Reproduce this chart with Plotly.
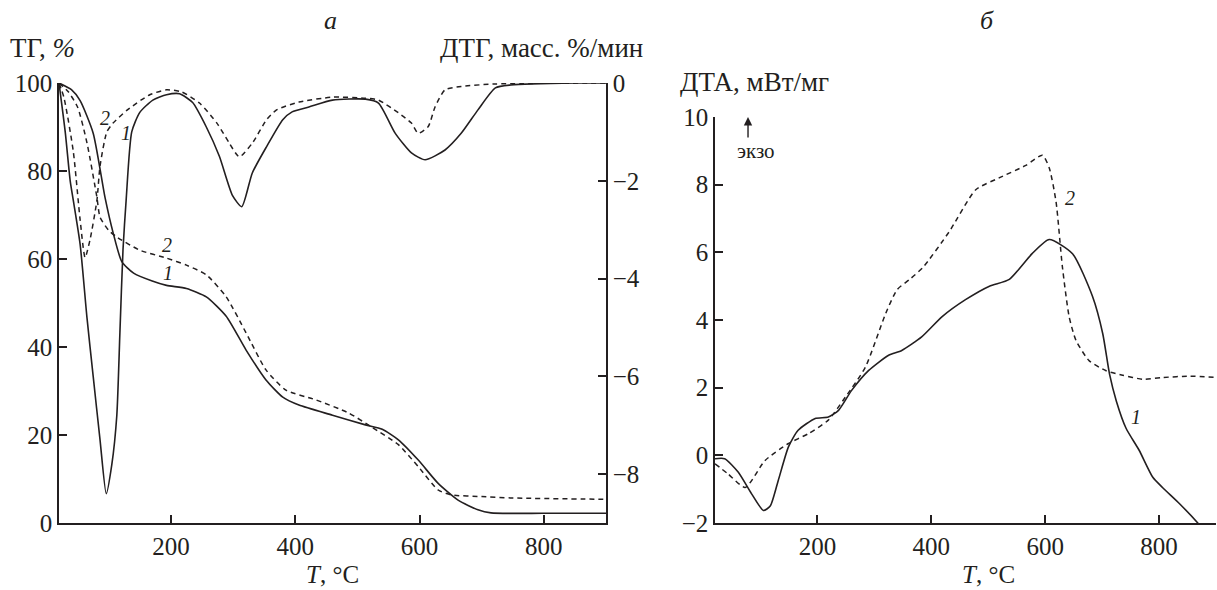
import plotly.graph_objects as go

# ---------------- data ----------------
# Panel a: TG (%), curve 1 (solid) and 2 (dashed)
T_tg1 = [20, 40, 54, 75, 94, 107, 121, 140, 170, 193, 225, 257, 289, 321, 353, 380, 406, 460, 513, 540, 566, 598, 630, 662, 694, 715, 800, 900]
tg1 = [100, 98.5, 96, 88.6, 74, 66, 59.4, 56.8, 55, 54, 53.3, 51.4, 47, 39.3, 32.5, 28.6, 26.8, 24.5, 22.3, 21.3, 18.9, 14.3, 9, 5.2, 3, 2.3, 2.2, 2.2]

T_tg2 = [20, 35, 50, 65, 81, 86, 100, 113, 150, 193, 225, 257, 289, 321, 353, 385, 433, 486, 523, 566, 598, 630, 651, 700, 746, 891, 900]
tg2 = [100, 98, 94.5, 86.4, 74, 69.5, 66.5, 65, 62, 60.2, 58.6, 56.4, 51.4, 43.2, 34.8, 30.2, 28, 25, 21.8, 17.8, 12.8, 7.5, 6.4, 6.0, 5.7, 5.4, 5.4]

# Panel a: DTG (mass %/min)
T_dtg1 = [20, 30, 38, 43, 54, 65, 75, 86, 96, 105, 113, 118, 123, 128, 137, 150, 171, 193, 214, 235, 257, 278, 299, 314, 331, 354, 380, 395, 422, 460, 513, 534, 561, 587, 609, 641, 667, 694, 722, 747, 850, 900]
dtg1 = [0, -1.0, -2.0, -2.4, -3.3, -4.8, -6.0, -7.3, -8.4, -7.8, -6.8, -5.1, -3.4, -2.4, -1.0, -0.6, -0.35, -0.24, -0.22, -0.4, -0.9, -1.5, -2.3, -2.53, -1.84, -1.3, -0.75, -0.59, -0.49, -0.35, -0.33, -0.41, -1.03, -1.43, -1.57, -1.37, -1.03, -0.55, -0.1, -0.04, 0, 0]

T_dtg2 = [20, 28, 43, 54, 62, 70, 81, 86, 97, 107, 130, 166, 193, 217, 246, 274, 294, 310, 331, 354, 370, 406, 460, 513, 534, 566, 587, 598, 614, 625, 641, 667, 722, 900]
dtg2 = [0, -0.3, -1.4, -2.8, -3.57, -3.2, -2.4, -1.7, -1.0, -0.82, -0.55, -0.24, -0.14, -0.18, -0.41, -0.82, -1.23, -1.51, -1.23, -0.75, -0.55, -0.39, -0.29, -0.31, -0.35, -0.61, -0.82, -1.03, -0.89, -0.49, -0.14, -0.07, -0.02, 0]

# Panel б: DTA (mW/mg)
T_dta1 = [20, 37, 61, 84, 105, 117, 131, 149, 166, 196, 219, 237, 260, 290, 325, 348, 383, 419, 460, 502, 537, 577, 607, 648, 683, 701, 713, 725, 742, 765, 789, 806, 836, 868, 880]
dta1 = [-0.1, -0.1, -0.5, -1.13, -1.63, -1.5, -0.75, 0.25, 0.74, 1.09, 1.13, 1.33, 1.92, 2.51, 2.96, 3.1, 3.5, 4.1, 4.6, 5.0, 5.2, 5.96, 6.38, 5.96, 4.7, 3.6, 2.4, 1.6, 0.8, 0.15, -0.65, -0.95, -1.43, -2.0, -2.25]

T_dta2 = [20, 43, 73, 108, 149, 184, 219, 249, 284, 320, 340, 362, 385, 431, 478, 519, 566, 595, 607, 619, 630, 642, 654, 677, 707, 736, 771, 806, 854, 900]
dta2 = [-0.25, -0.55, -0.95, -0.15, 0.35, 0.64, 1.04, 1.72, 2.6, 4.2, 4.9, 5.2, 5.55, 6.6, 7.85, 8.2, 8.57, 8.87, 8.5, 7.5, 5.6, 4.1, 3.4, 2.8, 2.5, 2.37, 2.25, 2.3, 2.34, 2.3]

x_ticks = [200, 400, 600, 800]
tg_ticks = [0, 20, 40, 60, 80, 100]
dtg_ticks = [0, -2, -4, -6, -8]
dta_ticks = [-2, 0, 2, 4, 6, 8, 10]

# ---------------- styling ----------------
INK = "#231f20"
FONT = "Liberation Serif"
FS = 25      # tick labels
FT = 27      # axis titles
W, H = 1217, 590
ML, MR, MT, MB = 59, 1, 83, 67
PW = W - ML - MR
PH = H - MT - MB


def px(x):
    return (x - ML) / PW


def py(y):
    return (H - MB - y) / PH


solid = dict(color=INK, width=1.6, shape="spline", smoothing=0.6)
dashed = dict(color=INK, width=1.5, dash="5px,4px", shape="spline", smoothing=0.6)

fig = go.Figure()
fig.add_trace(go.Scatter(x=T_tg1, y=tg1, mode="lines", line=solid, xaxis="x", yaxis="y"))
fig.add_trace(go.Scatter(x=T_tg2, y=tg2, mode="lines", line=dashed, xaxis="x", yaxis="y"))
fig.add_trace(go.Scatter(x=T_dtg1, y=dtg1, mode="lines", line=solid, xaxis="x", yaxis="y2"))
fig.add_trace(go.Scatter(x=T_dtg2, y=dtg2, mode="lines", line=dashed, xaxis="x", yaxis="y2"))
fig.add_trace(go.Scatter(x=T_dta1, y=dta1, mode="lines", line=solid, xaxis="x2", yaxis="y3"))
fig.add_trace(go.Scatter(x=T_dta2, y=dta2, mode="lines", line=dashed, xaxis="x2", yaxis="y3"))

axis_common = dict(
    showline=True, linecolor=INK, linewidth=1.5, showgrid=False, zeroline=False,
    ticks="inside", ticklen=8, tickwidth=1.5, tickcolor=INK,
    tickfont=dict(family=FONT, size=FS, color=INK),
)

xa_dom = [0, px(606)]
xb_dom = [px(715), 1]

fig.update_layout(
    width=W, height=H,
    margin=dict(l=ML, r=MR, t=MT, b=MB),
    paper_bgcolor="white", plot_bgcolor="white",
    showlegend=False,
    font=dict(family=FONT, size=FS, color=INK),
    xaxis=dict(domain=xa_dom, range=[20, 900], tickvals=x_ticks, anchor="y", **axis_common),
    yaxis=dict(domain=[0, 1], range=[0, 100], tickvals=tg_ticks, anchor="x", **axis_common),
    yaxis2=dict(range=[-9, 0], tickvals=dtg_ticks, overlaying="y", side="right", anchor="x", **axis_common),
    xaxis2=dict(domain=xb_dom, range=[20, 900], tickvals=x_ticks, anchor="y3", **axis_common),
    yaxis3=dict(domain=[0, py(117)], range=[-2, 10], tickvals=dta_ticks, anchor="x2", **axis_common),
)

ann = []


def text(x, y, s, xanchor="center", size=FT, italic=False, xref="paper", yref="paper"):
    if italic:
        s = "<i>" + s + "</i>"
    ann.append(dict(x=x, y=y, xref=xref, yref=yref, text=s, showarrow=False,
                    xanchor=xanchor, yanchor="middle",
                    font=dict(family=FONT, size=size, color=INK)))


# panel letters
text(px(330), py(20), "a", italic=True, size=26)
text(px(987), py(20), "б", italic=True, size=26)
# axis titles
text(px(8), py(48), "ТГ, <i>%</i>", xanchor="left")
text(px(645), py(48), "ДТГ, масс. %/мин", xanchor="right")
text(px(678), py(82), "ДТА, мВт/мг", xanchor="left")
text(px(332), py(574), "<i>T</i>, °C", size=25)
text(px(988), py(574), "<i>T</i>, °C", size=25)
# exo marker
text(px(756), py(151), "экзо", size=21)
ann.append(dict(x=78, y=10, xref="x2", yref="y3", ax=0, ay=22, axref="pixel", ayref="pixel",
                text="", showarrow=True, arrowhead=2, arrowsize=1.2, arrowwidth=1.4,
                arrowcolor=INK))
# curve labels
text(94, 92, "2", italic=True, size=20, xref="x", yref="y")
text(127, 88.6, "1", italic=True, size=20, xref="x", yref="y")
text(193, 63.2, "2", italic=True, size=20, xref="x", yref="y")
text(195, 56.8, "1", italic=True, size=20, xref="x", yref="y")
text(643, 7.6, "2", italic=True, size=20, xref="x2", yref="y3")
text(760, 1.12, "1", italic=True, size=20, xref="x2", yref="y3")

fig.update_layout(annotations=ann)
fig.write_html("out.html", post_script="document.body.style.margin='0px';",
               config={"displayModeBar": False})
